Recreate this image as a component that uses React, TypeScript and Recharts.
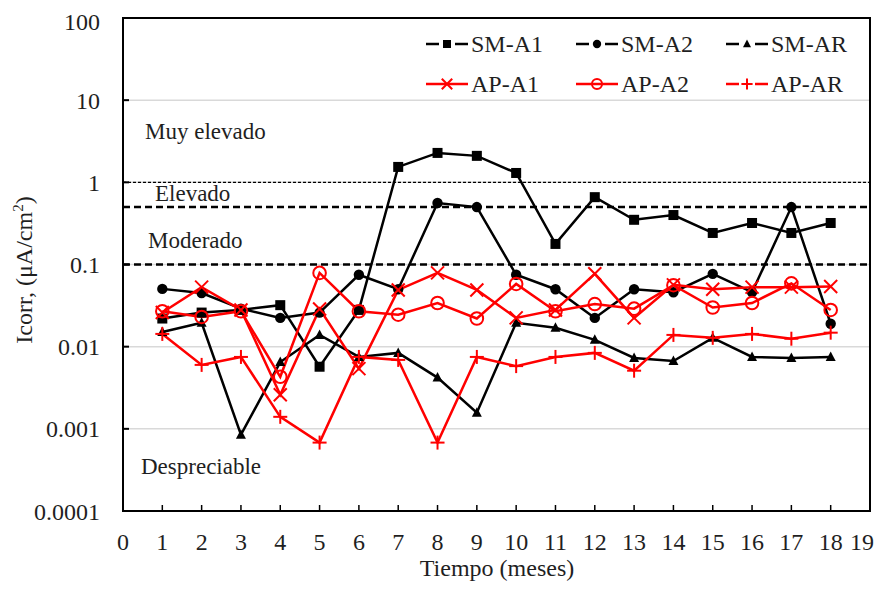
import React from "react";
import {
  CartesianGrid,
  Line,
  LineChart,
  ReferenceArea,
  ReferenceLine,
  XAxis,
  YAxis,
} from "recharts";

const MESES = [1, 2, 3, 4, 5, 6, 7, 8, 9, 10, 11, 12, 13, 14, 15, 16, 17, 18];
const X_TICKS = [0, 1, 2, 3, 4, 5, 6, 7, 8, 9, 10, 11, 12, 13, 14, 15, 16, 17, 18, 19];
const Y_TICKS = [0.0001, 0.001, 0.01, 0.1, 1, 10, 100];

const SM_A1 = [0.022, 0.026, 0.028, 0.032, 0.0057, 0.028, 1.54, 2.28, 2.1, 1.3, 0.178, 0.66, 0.35, 0.4, 0.242, 0.32, 0.242, 0.32];
const SM_A2 = [0.0505, 0.045, 0.029, 0.0224, 0.026, 0.075, 0.05, 0.56, 0.5, 0.075, 0.05, 0.0224, 0.05, 0.046, 0.077, 0.046, 0.5, 0.019];
const SM_AR = [0.0151, 0.0195, 0.00085, 0.0065, 0.0139, 0.0075, 0.0084, 0.0042, 0.00157, 0.0195, 0.017, 0.0121, 0.0073, 0.0067, 0.0128, 0.0075, 0.0073, 0.0075];
const AP_A1 = [0.026, 0.053, 0.028, 0.0026, 0.0288, 0.0054, 0.049, 0.079, 0.049, 0.0224, 0.028, 0.077, 0.0224, 0.0565, 0.05, 0.053, 0.053, 0.054];
const AP_A2 = [0.027, 0.023, 0.027, 0.0043, 0.079, 0.027, 0.0245, 0.034, 0.022, 0.058, 0.027, 0.033, 0.029, 0.056, 0.03, 0.034, 0.059, 0.028];
const AP_AR = [0.0143, 0.006, 0.0075, 0.0014, 0.00068, 0.0075, 0.0069, 0.00068, 0.0075, 0.0058, 0.0075, 0.0084, 0.0051, 0.0139, 0.0128, 0.0143, 0.0125, 0.0148];

// umbrales de nivel de corrosión
const UMBRAL_MUY_ELEVADO = 1;
const UMBRAL_ELEVADO = 0.5;
const UMBRAL_MODERADO = 0.1;

const FONT = '"Liberation Serif", "Times New Roman", serif';
const TEXT = "#1f1f1f";
const BLACK = "#000000";
const RED = "#ff0000";

type Shape = "square" | "circle" | "triangle" | "cross" | "ring" | "plus";

const SERIES: { key: string; name: string; color: string; shape: Shape }[] = [
  { key: "smA1", name: "SM-A1", color: BLACK, shape: "square" },
  { key: "smA2", name: "SM-A2", color: BLACK, shape: "circle" },
  { key: "smAR", name: "SM-AR", color: BLACK, shape: "triangle" },
  { key: "apA1", name: "AP-A1", color: RED, shape: "cross" },
  { key: "apA2", name: "AP-A2", color: RED, shape: "ring" },
  { key: "apAR", name: "AP-AR", color: RED, shape: "plus" },
];

const data = MESES.map((mes, i) => ({
  mes,
  smA1: SM_A1[i],
  smA2: SM_A2[i],
  smAR: SM_AR[i],
  apA1: AP_A1[i],
  apA2: AP_A2[i],
  apAR: AP_AR[i],
}));

function Marker({ shape, cx, cy, color, scale = 1 }: { shape: Shape; cx: number; cy: number; color: string; scale?: number }) {
  const s = scale;
  switch (shape) {
    case "square":
      return <rect x={cx - 5 * s} y={cy - 5 * s} width={10 * s} height={10 * s} fill={color} />;
    case "circle":
      return <circle cx={cx} cy={cy} r={5.2 * s} fill={color} />;
    case "triangle":
      return (
        <polygon
          points={`${cx},${cy - 5.5 * s} ${cx + 5 * s},${cy + 4 * s} ${cx - 5 * s},${cy + 4 * s}`}
          fill={color}
        />
      );
    case "cross":
      return (
        <g stroke={color} strokeWidth={2}>
          <line x1={cx - 6.5 * s} y1={cy - 6.5 * s} x2={cx + 6.5 * s} y2={cy + 6.5 * s} />
          <line x1={cx - 6.5 * s} y1={cy + 6.5 * s} x2={cx + 6.5 * s} y2={cy - 6.5 * s} />
        </g>
      );
    case "ring":
      return <circle cx={cx} cy={cy} r={6.3 * s} fill="none" stroke={color} strokeWidth={2} />;
    case "plus":
      return (
        <g stroke={color} strokeWidth={2}>
          <line x1={cx - 7 * s} y1={cy} x2={cx + 7 * s} y2={cy} />
          <line x1={cx} y1={cy - 7 * s} x2={cx} y2={cy + 7 * s} />
        </g>
      );
  }
}

const dotFor = (shape: Shape, color: string) => (props: any) => {
  const { cx, cy, index } = props;
  if (cx == null || cy == null) return <g key={`d-${index}`} />;
  return (
    <g key={`d-${shape}-${index}`}>
      <Marker shape={shape} cx={cx} cy={cy} color={color} />
    </g>
  );
};

// tick del eje X: la última etiqueta se corre un poco para que no se corte
function XTick(props: any) {
  const { x, y, payload } = props;
  const shift = payload.value === 19 ? -8 : 0;
  return (
    <text
      x={x + shift}
      y={y}
      dy={17}
      textAnchor="middle"
      fill={TEXT}
      fontFamily={FONT}
      fontSize={24}
    >
      {payload.value}
    </text>
  );
}

function LegendIcon({ shape, color }: { shape: Shape; color: string }) {
  const gap = shape === "square" || shape === "circle" || shape === "triangle" || shape === "plus";
  return (
    <svg width={44} height={16} style={{ display: "block" }}>
      {gap ? (
        <>
          <line x1={1} y1={8} x2={14} y2={8} stroke={color} strokeWidth={2.5} />
          <line x1={30} y1={8} x2={43} y2={8} stroke={color} strokeWidth={2.5} />
        </>
      ) : (
        <line x1={1} y1={8} x2={43} y2={8} stroke={color} strokeWidth={2.5} />
      )}
      <Marker shape={shape} cx={22} cy={8} color={color} scale={0.8} />
    </svg>
  );
}

function ChartLegend() {
  return (
    <div
      style={{
        position: "absolute",
        top: 16,
        left: 417,
        display: "grid",
        gridTemplateColumns: "150px 150px 150px",
        gridAutoRows: "40px",
        fontFamily: FONT,
        fontSize: 24,
        color: TEXT,
      }}
    >
      {SERIES.map((s) => (
        <div key={s.key} style={{ display: "flex", alignItems: "center", gap: 2 }}>
          <LegendIcon shape={s.shape} color={s.color} />
          <span style={{ lineHeight: "24px" }}>{s.name}</span>
        </div>
      ))}
    </div>
  );
}

const label = (text: string, left: number, top: number) => (
  <div
    style={{
      position: "absolute",
      left,
      top,
      fontFamily: FONT,
      fontSize: 23,
      color: TEXT,
      lineHeight: "24px",
      whiteSpace: "nowrap",
      pointerEvents: "none",
    }}
  >
    {text}
  </div>
);

export default function App() {
  return (
    <div style={{ position: "relative", width: 870, height: 575 }}>
      <LineChart width={870} height={575} data={data} margin={{ top: 10, right: 8, left: 0, bottom: 0 }}>
        <CartesianGrid vertical={false} stroke="#d9d9d9" strokeWidth={1.5} />
        <XAxis
          dataKey="mes"
          type="number"
          domain={[0, 19]}
          ticks={X_TICKS}
          interval={0}
          height={72}
          tickSize={-6}
          tickMargin={28}
          axisLine={{ stroke: BLACK, strokeWidth: 2 }}
          tickLine={{ stroke: BLACK, strokeWidth: 1.5 }}
          tick={<XTick />}
        />
        <YAxis
          scale="log"
          domain={[0.0001, 100]}
          ticks={Y_TICKS}
          allowDataOverflow
          width={115}
          tickSize={-6}
          tickMargin={29}
          tickFormatter={(v) => String(v)}
          axisLine={{ stroke: BLACK, strokeWidth: 2 }}
          tickLine={{ stroke: BLACK, strokeWidth: 2 }}
          tick={{ fill: TEXT, fontFamily: FONT, fontSize: 24 }}
        />
        <ReferenceArea
          x1={0}
          x2={19}
          y1={0.0001}
          y2={100}
          fill="none"
          stroke={BLACK}
          strokeWidth={2}
          ifOverflow="visible"
        />
        <ReferenceLine y={UMBRAL_MUY_ELEVADO} stroke={BLACK} strokeWidth={1.2} strokeDasharray="3 2" />
        <ReferenceLine y={UMBRAL_ELEVADO} stroke={BLACK} strokeWidth={2.5} strokeDasharray="7 4" />
        <ReferenceLine y={UMBRAL_MODERADO} stroke={BLACK} strokeWidth={2.5} strokeDasharray="7 4" />
        {SERIES.map((s) => (
          <Line
            key={s.key}
            dataKey={s.key}
            name={s.name}
            stroke={s.color}
            strokeWidth={2.5}
            dot={dotFor(s.shape, s.color)}
            activeDot={false}
            isAnimationActive={false}
          />
        ))}
      </LineChart>
      <ChartLegend />
      {label("Muy elevado", 137, 112)}
      {label("Elevado", 147, 174)}
      {label("Moderado", 140, 221)}
      {label("Despreciable", 133, 447)}
      <div
        style={{
          position: "absolute",
          left: 16,
          top: 262,
          transform: "translate(-50%, -50%) rotate(-90deg)",
          fontFamily: FONT,
          fontSize: 24,
          color: TEXT,
          whiteSpace: "nowrap",
        }}
      >
        Icorr, (μA/cm<sup style={{ fontSize: 15 }}>2</sup>)
      </div>
      <div
        style={{
          position: "absolute",
          left: 489,
          top: 560,
          transform: "translate(-50%, -50%)",
          fontFamily: FONT,
          fontSize: 24,
          lineHeight: "26px",
          color: TEXT,
          whiteSpace: "nowrap",
        }}
      >
        Tiempo (meses)
      </div>
    </div>
  );
}
